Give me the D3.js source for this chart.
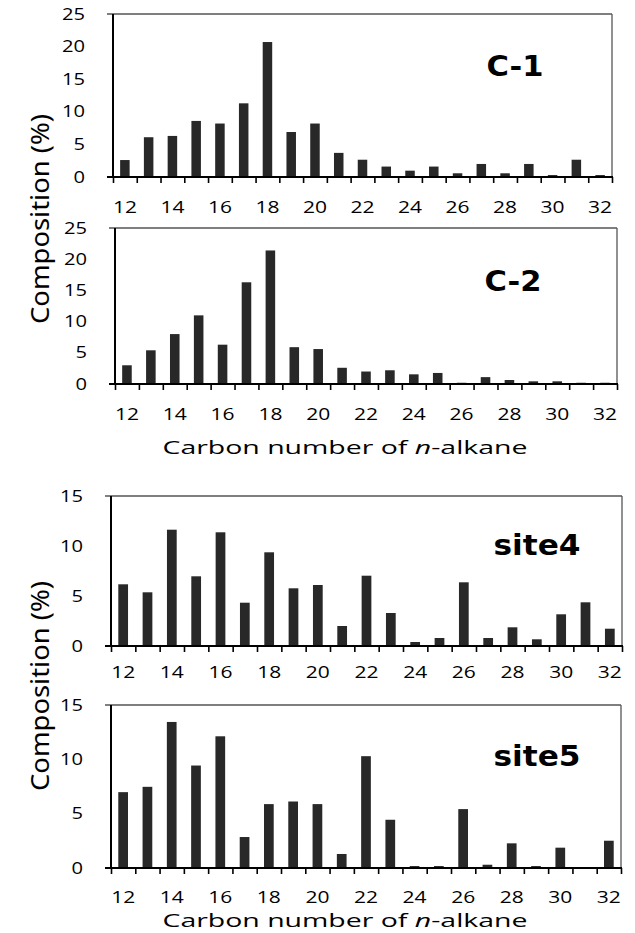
<!DOCTYPE html>
<html>
<head>
<meta charset="utf-8">
<script src="https://cdn.jsdelivr.net/npm/d3@7/dist/d3.min.js"></script>
<style>
	body { margin: 0; background: #fff; }
	svg { display: block; }
</style>
</head>
<body>
<svg id="chart" width="635" height="933"></svg>
<script>
// carbon number of n-alkane (categories)
var carbonNumbers = [12, 13, 14, 15, 16, 17, 18, 19, 20, 21, 22, 23, 24, 25, 26, 27, 28, 29, 30, 31, 32];
var xTickLabels = [12, 14, 16, 18, 20, 22, 24, 26, 28, 30, 32];

// composition (%)
var c1Values = [2.6, 6.1, 6.3, 8.6, 8.2, 11.3, 20.7, 6.9, 8.2, 3.7, 2.65, 1.6, 0.97, 1.6, 0.57, 2.0, 0.57, 2.0, 0.3, 2.65, 0.3];
var c2Values = [3.0, 5.4, 8.0, 11.0, 6.3, 16.3, 21.4, 5.9, 5.6, 2.6, 2.0, 2.2, 1.55, 1.77, 0.2, 1.1, 0.64, 0.43, 0.43, 0.2, 0.2];
var site4Values = [6.17, 5.37, 11.63, 6.97, 11.37, 4.33, 9.37, 5.77, 6.1, 2.0, 7.03, 3.3, 0.4, 0.8, 6.37, 0.8, 1.87, 0.67, 3.17, 4.37, 1.73];
var site5Values = [6.98, 7.47, 13.44, 9.43, 12.12, 2.85, 5.88, 6.12, 5.88, 1.29, 10.29, 4.44, 0.18, 0.18, 5.42, 0.3, 2.27, 0.18, 1.87, 0.05, 2.51];

var yTicksC = [0, 5, 10, 15, 20, 25];
var yTicksSite = [0, 5, 10, 15];

(function () {

	var svg = d3.select("#chart");
	var tickFont = "'Open Sans', 'DejaVu Sans', sans-serif";

	var panels = [
		{ name: "C-1", values: c1Values, yTicks: yTicksC, left: 113, right: 612, top: 14, bottom: 177, labelX: 515, labelY: 76, labelLen: 57, tickLabelY: 213 },
		{ name: "C-2", values: c2Values, yTicks: yTicksC, left: 115, right: 617, top: 228, bottom: 384, labelX: 513, labelY: 291, labelLen: 57, tickLabelY: 420 },
		{ name: "site4", values: site4Values, yTicks: yTicksSite, left: 111, right: 622, top: 496, bottom: 646, labelX: 537, labelY: 555, labelLen: 87, tickLabelY: 678 },
		{ name: "site5", values: site5Values, yTicks: yTicksSite, left: 111, right: 621, top: 705, bottom: 868, labelX: 537, labelY: 766, labelLen: 87, tickLabelY: 903 }
	];

	panels.forEach(drawPanel);

	// axis titles
	xTitle(345, 454);
	xTitle(345, 927);
	yTitle(40, 219);
	yTitle(40, 686);

	///////////////////////////

	function drawPanel(p) {
		var g = svg.append("g");

		var x = d3.scaleBand()
			.domain(carbonNumbers)
			.range([p.left, p.right])
			.paddingInner(0.6)
			.paddingOuter(0.3);

		var y = d3.scaleLinear()
			.domain([0, d3.max(p.yTicks)])
			.range([p.bottom, p.top]);

		// category boundaries for the tick marks
		var edges = d3.scaleLinear()
			.domain([carbonNumbers[0] - 0.5, carbonNumbers[carbonNumbers.length - 1] + 0.5])
			.range([p.left, p.right]);

		// bars
		g.selectAll(".bar")
			.data(p.values)
			.enter().append("rect")
			.attr("class", "bar")
			.attr("x", function(d, i) { return x(carbonNumbers[i]); })
			.attr("width", x.bandwidth())
			.attr("y", function(d) { return y(d); })
			.attr("height", function(d) { return y(0) - y(d); })
			.attr("fill", "#282828");

		// frame: grey top/right, black left/bottom
		g.append("line")
			.attr("x1", p.left - 6).attr("x2", p.right)
			.attr("y1", y(d3.max(p.yTicks))).attr("y2", y(d3.max(p.yTicks)))
			.attr("stroke", "#555").attr("stroke-width", 1.3);
		g.append("line")
			.attr("x1", p.right).attr("x2", p.right)
			.attr("y1", p.top).attr("y2", p.bottom)
			.attr("stroke", "#555").attr("stroke-width", 1.3);

		// tick marks between categories
		var tickAxis = d3.axisBottom(edges)
			.tickValues(carbonNumbers.map(function(c) { return c - 0.5; }).concat([carbonNumbers[carbonNumbers.length - 1] + 0.5]))
			.tickSize(6)
			.tickFormat("");
		var ta = g.append("g")
			.attr("transform", "translate(0," + p.bottom + ")")
			.call(tickAxis);
		ta.select(".domain").remove();
		ta.selectAll("line").attr("stroke", "#000").attr("stroke-width", 1.6);

		g.append("line")
			.attr("x1", p.left).attr("x2", p.left)
			.attr("y1", p.top).attr("y2", p.bottom)
			.attr("stroke", "#000").attr("stroke-width", 2);
		g.append("line")
			.attr("x1", p.left - 6).attr("x2", p.right + 1)
			.attr("y1", y(0)).attr("y2", y(0))
			.attr("stroke", "#000").attr("stroke-width", 2);

		// x tick labels
		var xAxis = d3.axisBottom(x)
			.tickValues(xTickLabels)
			.tickSize(0);
		var xa = g.append("g")
			.attr("transform", "translate(0," + p.tickLabelY + ")")
			.call(xAxis);
		xa.select(".domain").remove();
		xa.selectAll("text")
			.attr("y", 0).attr("dy", 0)
			.attr("fill", "#000")
			.style("font-family", tickFont)
			.style("font-size", "16px")
			.attr("textLength", function(d) { return String(d).length * 12; })
			.attr("lengthAdjust", "spacingAndGlyphs");

		// y tick labels
		var yAxis = d3.axisLeft(y)
			.tickValues(p.yTicks)
			.tickSize(0)
			.tickPadding(28);
		var ya = g.append("g")
			.attr("transform", "translate(" + p.left + ",0)")
			.call(yAxis);
		ya.select(".domain").remove();
		ya.selectAll("text")
			.attr("fill", "#000")
			.style("font-family", tickFont)
			.style("font-size", "16px")
			.attr("textLength", function(d) { return String(d).length * 11.5; })
			.attr("lengthAdjust", "spacingAndGlyphs");

		// panel name
		g.append("text")
			.attr("x", p.labelX)
			.attr("y", p.labelY)
			.attr("text-anchor", "middle")
			.attr("textLength", p.labelLen)
			.attr("lengthAdjust", "spacingAndGlyphs")
			.style("font-family", "'DejaVu Sans', sans-serif")
			.style("font-weight", "bold")
			.style("font-size", "28px")
			.text(p.name);
	}

	function xTitle(cx, baseline) {
		var t = svg.append("text")
			.attr("x", cx)
			.attr("y", baseline)
			.attr("text-anchor", "middle")
			.attr("textLength", 365)
			.attr("lengthAdjust", "spacingAndGlyphs")
			.style("font-family", tickFont)
			.style("font-size", "18.5px");
		t.append("tspan").text("Carbon number of ");
		t.append("tspan").style("font-style", "italic").text("n");
		t.append("tspan").text("-alkane");
	}

	function yTitle(cx, cy) {
		svg.append("text")
			.attr("transform", "translate(" + cx + "," + cy + ") rotate(-90)")
			.attr("text-anchor", "middle")
			.attr("dy", "0.35em")
			.attr("textLength", 210)
			.attr("lengthAdjust", "spacingAndGlyphs")
			.style("font-family", "'Liberation Sans Narrow', 'Noto Sans', sans-serif")
			.style("font-size", "25px")
			.text("Composition (%)");
	}

})();
</script>
</body>
</html>
